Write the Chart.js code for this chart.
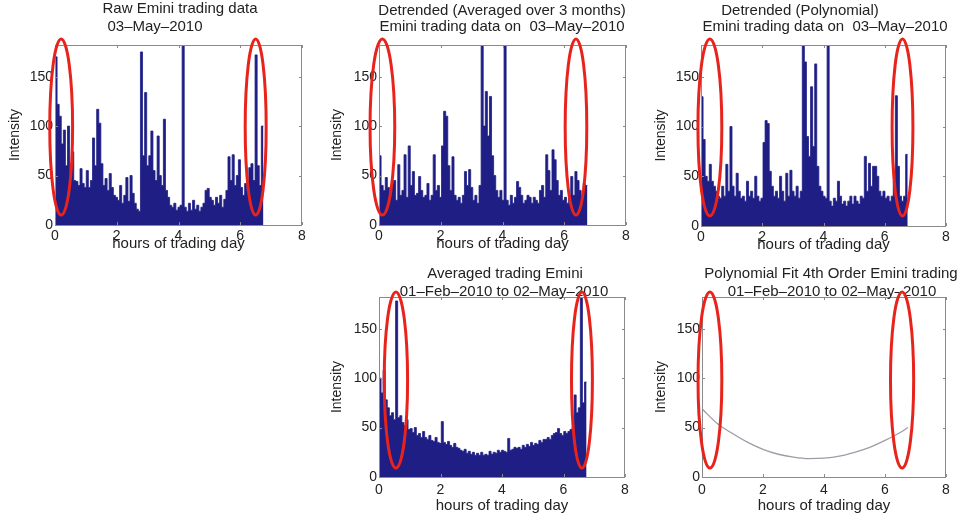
<!DOCTYPE html>
<html>
<head>
  <title>Emini trading intensity</title>
  <script src="https://cdn.jsdelivr.net/npm/chart.js@4/dist/chart.umd.min.js"></script>
  <style>
    body { margin: 0; background: #fff; }
    .panel { position: absolute; }
  </style>
</head>
<body>
  <div class="panel" style="left:0;top:0;width:320px;height:260px"><canvas id="raw"></canvas></div>
  <div class="panel" style="left:320px;top:0;width:320px;height:260px"><canvas id="detAvg"></canvas></div>
  <div class="panel" style="left:640px;top:0;width:324px;height:261px"><canvas id="detPoly"></canvas></div>
  <div class="panel" style="left:320px;top:260px;width:320px;height:271px"><canvas id="avg"></canvas></div>
  <div class="panel" style="left:640px;top:260px;width:324px;height:271px"><canvas id="fit"></canvas></div>

  <script>
    // each bar series: 100 bins of 0.0675 h across the 6.75 h trading day
    const BIN = 0.0675;
    const DAY_END = 6.75;

    const raw0503 = [
      170, 122, 110, 82, 96, 60, 100, 52, 74, 45,
      44, 40, 57, 42, 38, 55, 38, 45, 88, 60,
      117, 103, 62, 40, 47, 35, 52, 38, 30, 28,
      25, 40, 22, 30, 48, 24, 50, 32, 22, 16,
      14, 175, 70, 134, 60, 70, 95, 55, 45, 90,
      50, 40, 107, 35, 28, 20, 18, 22, 15, 18,
      20, 182, 18, 14, 22, 15, 25, 16, 20, 14,
      18, 22, 35, 37, 28, 25, 20, 28, 22, 30,
      18, 26, 35, 69, 45, 71, 40, 50, 66, 38,
      30, 42, 35, 58, 62, 45, 172, 60, 40, 100
    ];

    const detrendAvg = [
      70, 40, 35, 48, 38, 30, 42, 45, 25, 61,
      30, 35, 71, 28, 80, 40, 54, 30, 32, 49,
      35, 28, 30, 42, 25, 30, 71, 35, 40, 28,
      80, 115, 110, 60, 35, 69, 30, 25, 28, 22,
      30, 54, 40, 56, 38, 25, 30, 22, 40, 182,
      100, 135, 90, 130, 70, 50, 35, 28, 35, 25,
      182, 25, 20, 30, 22, 28, 44, 38, 30, 22,
      25, 30, 28, 22, 28, 25, 22, 35, 40, 28,
      71, 55, 35, 76, 66, 45, 30, 35, 25, 28,
      22, 30, 49, 30, 54, 45, 35, 30, 42, 40
    ];

    const detrendPoly = [
      130, 87, 50, 45, 62, 45, 40, 35, 30, 28,
      40, 30, 62, 35, 100, 40, 30, 53, 35, 28,
      30, 25, 45, 30, 35, 28, 50, 30, 25, 28,
      84, 106, 103, 55, 40, 30, 35, 28, 50, 35,
      25, 53, 30, 56, 35, 30, 40, 28, 35, 182,
      165, 90, 70, 140, 80, 163, 60, 40, 35, 30,
      28, 182, 25, 20, 28, 25, 45, 30, 22, 25,
      20, 25, 30, 22, 30, 25, 22, 30, 28, 70,
      35, 63, 40, 60, 60, 50, 35, 30, 35, 28,
      30, 25, 30, 45, 131, 60, 30, 25, 30, 72
    ];

    const avgFebMay = [
      100, 85, 108, 78, 70, 62, 65, 58, 178, 60,
      62, 55, 52, 58, 48, 49, 45, 50, 42, 44,
      40, 46, 40, 38, 42, 37, 36, 40, 35, 34,
      56, 35, 33, 36, 32, 30, 34, 30, 29, 27,
      26, 28, 24, 26, 23, 25, 22, 24, 22, 25,
      22, 23, 22, 26, 23, 25, 24, 27, 25, 27,
      26, 25, 39, 27, 28, 30, 29, 30, 28, 32,
      30, 33, 31, 35, 32, 34, 33, 37, 35, 38,
      38, 40, 38, 42, 44, 45, 49, 44, 42, 46,
      44, 46, 48, 50, 83, 65, 70, 182, 75, 96
    ];

    // 4th order polynomial fit
    const fitHours = [0, 0.5, 1, 1.5, 2, 2.5, 3, 3.5, 4, 4.5, 5, 5.5, 6, 6.5, 6.75];
    const fitValues = [69, 54, 44, 35, 28, 23, 20, 18.5, 19, 21, 25, 30, 37, 45, 50];

    const xTicks = [0, 2, 4, 6, 8];
    const yTicks = [0, 50, 100, 150];

    const NAVY = '#1e1e85';
    const TEXT = '#222';
    const FONT = '"Liberation Sans", Arial, sans-serif';

    // draws the matlab style box, inner ticks, titles and the red rings
    const framePlugin = {
      id: 'frame',
      afterDatasetsDraw(chart, args, opts) {
        const { ctx, chartArea: a, scales: { x, y } } = chart;
        ctx.save();
        ctx.strokeStyle = '#8a8a8a';
        ctx.lineWidth = 1;
        ctx.strokeRect(Math.round(a.left) + 0.5, Math.round(a.top) + 0.5,
          Math.round(a.width) - 1, Math.round(a.height));
        ctx.beginPath();
        xTicks.forEach(v => {
          const px = Math.round(x.getPixelForValue(v)) + 0.5;
          ctx.moveTo(px, a.bottom); ctx.lineTo(px, a.bottom - 3);
          ctx.moveTo(px, a.top); ctx.lineTo(px, a.top + 3);
        });
        yTicks.forEach(v => {
          const py = Math.round(y.getPixelForValue(v)) + 0.5;
          ctx.moveTo(a.left, py); ctx.lineTo(a.left + 3, py);
          ctx.moveTo(a.right, py); ctx.lineTo(a.right - 3, py);
        });
        ctx.stroke();
        ctx.restore();
      },
      afterDraw(chart, args, opts) {
        const { ctx, scales: { x, y } } = chart;
        ctx.save();
        ctx.fillStyle = TEXT;
        ctx.font = '15px ' + FONT;
        ctx.textAlign = 'center';
        ctx.textBaseline = 'middle';
        (opts.lines || []).forEach(l => ctx.fillText(l.text, l.cx, l.cy));

        ctx.strokeStyle = '#e8231c';
        ctx.lineWidth = 3;
        (opts.rings || []).forEach(r => {
          const cx = x.getPixelForValue(r.hour);
          const rx = x.getPixelForValue(r.hour + r.half) - cx;
          const top = y.getPixelForValue(r.top);
          const bottom = y.getPixelForValue(r.bottom);
          ctx.beginPath();
          ctx.ellipse(cx, (top + bottom) / 2, rx, (bottom - top) / 2, 0, 0, Math.PI * 2);
          ctx.stroke();
        });
        ctx.restore();
      }
    };

    function histData(values) {
      const pts = values.map((v, i) => ({ x: i * BIN, y: v }));
      pts.push({ x: DAY_END, y: values[values.length - 1] });
      return pts;
    }

    function makePanel(id, cfg) {
      const dataset = cfg.curve
        ? {
            data: cfg.curve,
            borderColor: '#a29aa6',
            borderWidth: 1.3,
            pointRadius: 0,
            fill: false,
            cubicInterpolationMode: 'monotone'
          }
        : {
            data: histData(cfg.values),
            borderColor: NAVY,
            backgroundColor: NAVY,
            borderWidth: 0.8,
            pointRadius: 0,
            stepped: true,
            fill: 'origin'
          };

      return new Chart(document.getElementById(id), {
        type: 'line',
        data: { datasets: [dataset] },
        plugins: [framePlugin],
        options: {
          responsive: true,
          maintainAspectRatio: false,
          animation: false,
          devicePixelRatio: 1,
          layout: { padding: { top: cfg.top, right: cfg.right, left: 0, bottom: 0 } },
          plugins: {
            legend: { display: false },
            tooltip: { enabled: false },
            frame: { lines: cfg.lines, rings: cfg.rings }
          },
          scales: {
            x: {
              type: 'linear',
              min: 0,
              max: 8,
              afterBuildTicks: s => { s.ticks = xTicks.map(v => ({ value: v })); },
              afterFit: s => { s.height = cfg.xHeight; },
              grid: { display: false, drawTicks: false },
              border: { display: false },
              ticks: { color: TEXT, font: { size: 14, family: FONT }, padding: cfg.xPad, maxRotation: 0 },
              title: {
                display: true,
                text: 'hours of trading day',
                color: TEXT,
                font: { size: 15, family: FONT, lineHeight: 1.2 },
                padding: { top: 0, bottom: cfg.xTitlePad }
              }
            },
            y: {
              min: 0,
              max: 182,
              afterBuildTicks: s => { s.ticks = yTicks.map(v => ({ value: v })); },
              afterFit: s => { s.width = cfg.yWidth; },
              grid: { display: false, drawTicks: false },
              border: { display: false },
              ticks: { color: TEXT, font: { size: 14, family: FONT }, padding: 2 },
              title: {
                display: true,
                text: 'Intensity',
                color: TEXT,
                font: { size: 14, family: FONT, lineHeight: 1.2 },
                padding: { top: cfg.yTitlePad, bottom: 0 }
              }
            }
          }
        }
      });
    }

    makePanel('raw', {
      values: raw0503,
      top: 45, right: 18, yWidth: 55, xHeight: 35, xPad: 3, xTitlePad: 7, yTitlePad: 7,
      lines: [
        { text: 'Raw Emini trading data', cx: 180, cy: 9 },
        { text: '03\u2013May\u20132010', cx: 155, cy: 27 }
      ],
      rings: [
        { hour: 0.2, half: 0.37, top: 188, bottom: 10 },
        { hour: 6.5, half: 0.34, top: 188, bottom: 10 }
      ]
    });

    makePanel('detAvg', {
      values: detrendAvg,
      top: 45, right: 14, yWidth: 59, xHeight: 35, xPad: 3, xTitlePad: 7, yTitlePad: 9,
      lines: [
        { text: 'Detrended (Averaged over 3 months)', cx: 182, cy: 11 },
        { text: 'Emini trading data on  03\u2013May\u20132010', cx: 182, cy: 27 }
      ],
      rings: [
        { hour: 0.11, half: 0.4, top: 188, bottom: 10 },
        { hour: 6.38, half: 0.35, top: 188, bottom: 10 }
      ]
    });

    makePanel('detPoly', {
      values: detrendPoly,
      top: 45, right: 18, yWidth: 61, xHeight: 35, xPad: 3, xTitlePad: 7, yTitlePad: 13,
      lines: [
        { text: 'Detrended (Polynomial)', cx: 160, cy: 11 },
        { text: 'Emini trading data on  03\u2013May\u20132010', cx: 185, cy: 27 }
      ],
      rings: [
        { hour: 0.29, half: 0.39, top: 188, bottom: 10 },
        { hour: 6.58, half: 0.34, top: 188, bottom: 10 }
      ]
    });

    makePanel('avg', {
      values: avgFebMay,
      top: 37, right: 15, yWidth: 59, xHeight: 54, xPad: 5, xTitlePad: 16, yTitlePad: 9,
      lines: [
        { text: 'Averaged trading Emini', cx: 185, cy: 14 },
        { text: '01\u2013Feb\u20132010 to 02\u2013May\u20132010', cx: 184, cy: 32 }
      ],
      rings: [
        { hour: 0.55, half: 0.38, top: 187, bottom: 9 },
        { hour: 6.6, half: 0.34, top: 187, bottom: 9 }
      ]
    });

    makePanel('fit', {
      curve: fitHours.map((h, i) => ({ x: h, y: fitValues[i] })),
      top: 37, right: 18, yWidth: 62, xHeight: 54, xPad: 5, xTitlePad: 16, yTitlePad: 13,
      lines: [
        { text: 'Polynomial Fit 4th Order Emini trading', cx: 191, cy: 14 },
        { text: '01\u2013Feb\u20132010 to 02\u2013May\u20132010', cx: 192, cy: 32 }
      ],
      rings: [
        { hour: 0.26, half: 0.39, top: 187, bottom: 9 },
        { hour: 6.56, half: 0.38, top: 187, bottom: 9 }
      ]
    });
  </script>
</body>
</html>
